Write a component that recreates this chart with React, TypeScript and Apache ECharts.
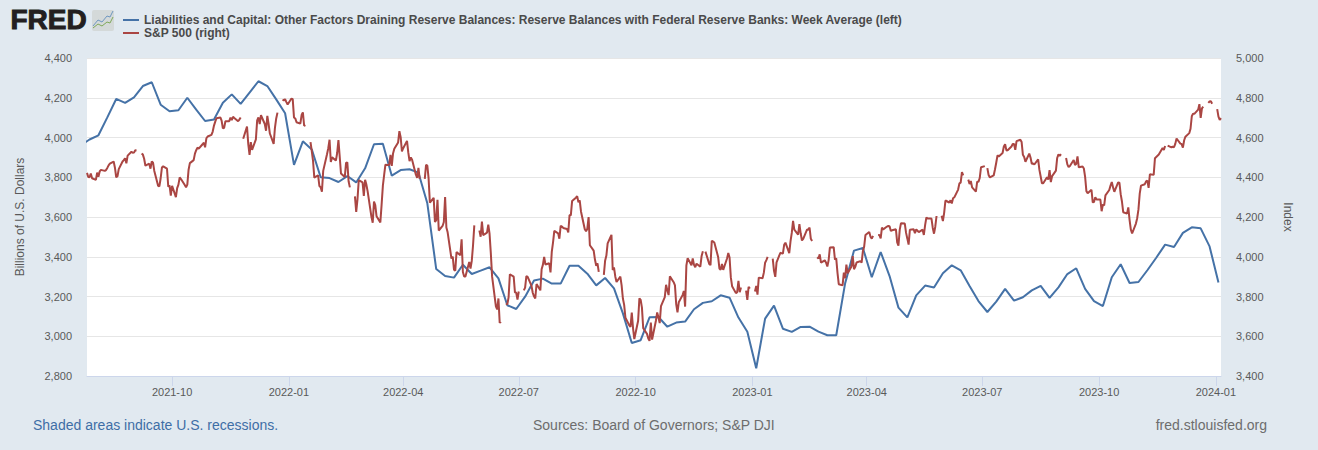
import React, { useEffect, useRef } from "react";
import * as echarts from "echarts";

const seriesNames = [
  "Liabilities and Capital: Other Factors Draining Reserve Balances: Reserve Balances with Federal Reserve Banks: Week Average (left)",
  "S&P 500 (right)",
];
const tickDates = ["2021-10-01","2022-01-01","2022-04-01","2022-07-01","2022-10-01","2023-01-01","2023-04-01","2023-07-01","2023-10-01","2024-01-01"];

// Weekly averages, first point 2021-07-21 (outside the plot), then every Wednesday
const reserveFirstDate = "2021-07-21";
const reserveValues = [
  3960,3990,4011,4101,4194,4174,4202,4259,4278,4165,4132,4137,4200,4140,4083,4091,4175,4217,4169,4226,4283,4259,4192,4122,
  3862,3981,3940,3800,3796,3776,3806,3774,3845,3966,3969,3808,3836,3840,3823,3669,3338,3303,3295,3360,3313,3330,3347,3291,
  3156,3137,3199,3280,3290,3265,3265,3355,3355,3315,3256,3293,3241,3115,2966,2980,3095,3097,3048,3069,3074,3136,3168,3176,
  3206,3194,3094,3023,2839,3089,3154,3038,3022,3047,3048,3023,3005,3005,3266,3431,3444,3297,3424,3303,3144,3095,3206,3255,
  3245,3317,3357,3332,3253,3177,3122,3174,3238,3179,3196,3231,3253,3193,3246,3313,3342,3238,3177,3152,3297,3362,3268,3273,
  3332,3395,3461,3449,3520,3548,3543,3452,3271,
];

// One row per week (Mon..Fri), first row the week of 2021-07-26; null = market closed
const spxFirstMonday = "2021-07-26";
const n = null;
const spxWeeks = [
  [4422,4401,4400,4419,4395],[4387,4423,4403,4429,4437],[4432,4436,4447,4460,4468],[4479,4448,4400,4405,4441],
  [4479,4486,4496,4470,4509],[4528,4523,4524,4536,4535],[n,4520,4514,4493,4458],[4468,4443,4480,4473,4432],
  [4357,4354,4395,4449,4455],[4443,4352,4359,4307,4357],[4300,4345,4363,4399,4391],[4361,4350,4363,4438,4471],
  [4486,4519,4536,4549,4544],[4566,4574,4551,4596,4605],[4613,4630,4660,4680,4697],[4701,4685,4646,4649,4682],
  [4682,4700,4688,4704,4698],[4682,4690,4701,n,4594],[4655,4567,4513,4577,4538],[4591,4686,4701,4667,4712],
  [4668,4634,4709,4669,4620],[4568,4649,4696,4725,n],[4791,4786,4793,4778,4766],[4796,4793,4701,4696,4677],
  [4670,4713,4726,4659,4662],[n,4577,4532,4482,4398],[4410,4356,4350,4327,4432],[4516,4546,4589,4477,4500],
  [4484,4522,4587,4504,4419],[4401,4472,4475,4380,4349],[n,4304,4226,4289,4385],[4374,4306,4387,4363,4329],
  [4201,4171,4278,4260,4204],[4173,4262,4358,4412,4463],[4461,4512,4457,4520,4543],[4575,4632,4602,4530,4546],
  [4583,4525,4481,4500,4488],[4413,4397,4447,4392,n],[4392,4463,4459,4394,4272],[4296,4175,4184,4287,4132],
  [4155,4175,4300,4147,4123],[3991,4001,3935,3930,4024],[4008,4088,3923,3901,3901],[3974,3941,3979,4058,4158],
  [n,4132,4101,4177,4109],[4121,4161,4116,4018,3901],[3750,3735,3790,3667,3675],[n,3765,3760,3796,3912],
  [3900,3821,3819,3785,3825],[n,3831,3845,3903,3899],[3855,3819,3801,3790,3863],[3831,3937,3959,3999,3961],
  [3967,3921,4024,4072,4130],[4118,4091,4155,4152,4145],[4140,4122,4210,4208,4280],[4297,4305,4274,4284,4228],
  [4138,4128,4141,4200,4058],[4031,3986,3955,3967,3924],[n,3909,3980,4006,4067],[4110,3933,3946,3901,3873],
  [3900,3856,3790,3758,3693],[3655,3647,3719,3640,3586],[3678,3791,3783,3744,3640],[3612,3589,3577,3669,3583],
  [3678,3720,3695,3666,3752],[3797,3859,3831,3807,3901],[3872,3856,3760,3720,3771],[3807,3828,3749,3956,3993],
  [3957,3992,3959,3947,3965],[3950,4004,4028,n,4026],[3964,3958,4080,4077,4072],[3999,3941,3934,3964,3934],
  [3991,4019,3996,3896,3852],[3817,3822,3879,3822,3845],[n,3829,3783,3849,3840],[n,3825,3853,3809,3895],
  [3892,3920,3970,3983,3999],[n,3991,3929,3899,3972],[4020,4017,4016,4060,4071],[4018,4077,4120,4180,4136],
  [4111,4164,4118,4082,4090],[4137,4136,4147,4090,4079],[n,3997,3991,4012,3970],[3982,3970,3951,3982,4046],
  [4048,3986,3992,3919,3862],[3856,3920,3892,3960,3917],[3951,4003,3937,3949,3971],[3978,3971,4028,4051,4109],
  [4125,4101,4091,4105,n],[4109,4109,4092,4146,4138],[4152,4155,4154,4130,4133],[4138,4072,4056,4135,4169],
  [4167,4120,4091,4061,4136],[4138,4119,4138,4131,4124],[4136,4110,4159,4198,4192],[4192,4146,4116,4151,4205],
  [n,4206,4180,4221,4283],[4273,4284,4268,4294,4299],[4338,4369,4373,4426,4410],[n,4388,4366,4381,4349],
  [4328,4378,4377,4396,4450],[4456,n,4446,4411,4399],[4409,4439,4473,4510,4505],[4522,4555,4566,4535,4536],
  [4555,4567,4567,4538,4582],[4589,4577,4513,4502,4478],[4519,4499,4468,4469,4464],[4490,4437,4404,4370,4370],
  [4400,4388,4436,4376,4406],[4433,4497,4515,4508,4516],[n,4497,4465,4451,4457],[4487,4462,4467,4505,4450],
  [4454,4444,4402,4330,4320],[4337,4274,4275,4300,4288],[4288,4229,4263,4258,4309],[4336,4358,4376,4349,4327],
  [4374,4373,4315,4278,4224],[4217,4248,4186,4137,4117],[4167,4194,4238,4318,4358],[4365,4379,4383,4347,4415],
  [4412,4496,4502,4508,4514],[4547,4538,4557,n,4559],[4550,4554,4551,4568,4595],[4569,4567,4549,4586,4604],
  [4622,4644,4707,4720,4719],[4740,4768,4699,4747,4755],[n,4774,4781,4783,4770],[n,4743,4705,4689,4697],
];

const xMin = "2021-07-26";
const xMax = "2024-01-05";
const DAY = 86400000;
const utc = (s: string) => Date.parse(s + "T00:00:00Z");

const reserveData = reserveValues.map((v, i) => [utc(reserveFirstDate) + i * 7 * DAY, v]);
const spxData: (number | null)[][] = [];
spxWeeks.forEach((week, w) =>
  week.forEach((v, d) => spxData.push([utc(spxFirstMonday) + (w * 7 + d) * DAY, v]))
);

const FONT = '"Liberation Sans", Arial, sans-serif';
const BG = "#e1e9f0";
const thousands = (v: number) => String(v).replace(/\B(?=(\d{3})+$)/, ",");

export default function App() {
  const ref = useRef<HTMLDivElement>(null);
  useEffect(() => {
    const chart = echarts.init(ref.current!, undefined, { renderer: "svg" });
    const tickTimes = tickDates.map(utc);
    chart.setOption({
      animation: false,
      backgroundColor: BG,
      textStyle: { fontFamily: FONT },
      grid: { left: 87, right: 97, top: 58, bottom: 74, containLabel: false, show: true, backgroundColor: "#ffffff", borderWidth: 0 },
      legend: {
        show: true,
        left: 118,
        top: 9,
        orient: "vertical",
        itemWidth: 16,
        itemHeight: 2,
        itemGap: 1,
        icon: "rect",
        textStyle: { fontFamily: FONT, fontSize: 12, fontWeight: "bold", color: "#4a4a4a", height: 12, lineHeight: 12 },
        selectedMode: false,
      },
      xAxis: {
        type: "value",
        min: utc(xMin),
        max: utc(xMax),
        axisLine: { show: true, onZero: false, lineStyle: { color: "#ccd6eb", width: 1 } },
        axisTick: { show: true, length: 10, lineStyle: { color: "#ccd6eb", width: 1 }, customValues: tickTimes },
        splitLine: { show: false },
        axisLabel: {
          show: true,
          customValues: tickTimes,
          color: "#595959",
          fontSize: 11,
          fontFamily: FONT,
          margin: 10,
          formatter: (v: number) => {
            const d = new Date(v);
            return d.getUTCFullYear() + "-" + String(d.getUTCMonth() + 1).padStart(2, "0");
          },
        },
      },
      yAxis: [
        {
          type: "value", min: 2800, max: 4400, interval: 200, position: "left",
          name: "Billions of U.S. Dollars", nameLocation: "middle", nameGap: 61, nameRotate: 90,
          nameTextStyle: { color: "#595959", fontSize: 12, fontFamily: FONT },
          axisLine: { show: false }, axisTick: { show: false },
          splitLine: { show: true, lineStyle: { color: "#e6e6e6", width: 1 } },
          axisLabel: { color: "#595959", fontSize: 11, fontFamily: FONT, margin: 15, formatter: thousands },
        },
        {
          type: "value", min: 3400, max: 5000, interval: 200, position: "right",
          name: "Index", nameLocation: "middle", nameGap: 61, nameRotate: -90,
          nameTextStyle: { color: "#595959", fontSize: 12, fontFamily: FONT },
          axisLine: { show: false }, axisTick: { show: false }, splitLine: { show: false },
          axisLabel: { color: "#595959", fontSize: 11, fontFamily: FONT, margin: 15, formatter: thousands },
        },
      ],
      series: [
        { name: seriesNames[0], type: "line", yAxisIndex: 0, data: reserveData, showSymbol: false, symbol: "none", clip: true,
          lineStyle: { color: "#4572a7", width: 2 }, itemStyle: { color: "#4572a7" }, silent: true },
        { name: seriesNames[1], type: "line", yAxisIndex: 1, data: spxData, showSymbol: false, symbol: "none", clip: true, connectNulls: false,
          lineStyle: { color: "#aa4643", width: 2 }, itemStyle: { color: "#aa4643" }, silent: true },
      ],
      graphic: [
        { type: "text", left: 10, top: 5, style: { text: "FRED", fontFamily: FONT, fontSize: 28, fontWeight: "bold", fill: "#231f20", stroke: "#231f20", lineWidth: 1 } },
        { type: "rect", shape: { x: 92, y: 10, width: 22, height: 21, r: 2 }, style: { fill: "#d4d9d9" } },
        { type: "polyline", shape: { points: [[93,26],[98,20],[102,22],[107,16],[110,17],[113,11]] }, style: { stroke: "#6f97c0", fill: "none", lineWidth: 1 } },
        { type: "polyline", shape: { points: [[93,28],[98,24],[102,26],[107,22],[110,23],[113,17]] }, style: { stroke: "#7fa85a", fill: "none", lineWidth: 1 } },
        { type: "text", left: 33, top: 418, style: { text: "Shaded areas indicate U.S. recessions.", fontFamily: FONT, fontSize: 14, fill: "#3e6ea6" } },
        { type: "text", left: 533, top: 418, style: { text: "Sources: Board of Governors; S&P DJI", fontFamily: FONT, fontSize: 14, fill: "#6d6d6d" } },
        { type: "text", right: 51, top: 418, style: { text: "fred.stlouisfed.org", fontFamily: FONT, fontSize: 14, fill: "#6d6d6d" } },
      ],
    });
    return () => chart.dispose();
  }, []);
  return <div ref={ref} style={{ position: "fixed", left: 0, top: 0, width: 1318, height: 450 }} />;
}
